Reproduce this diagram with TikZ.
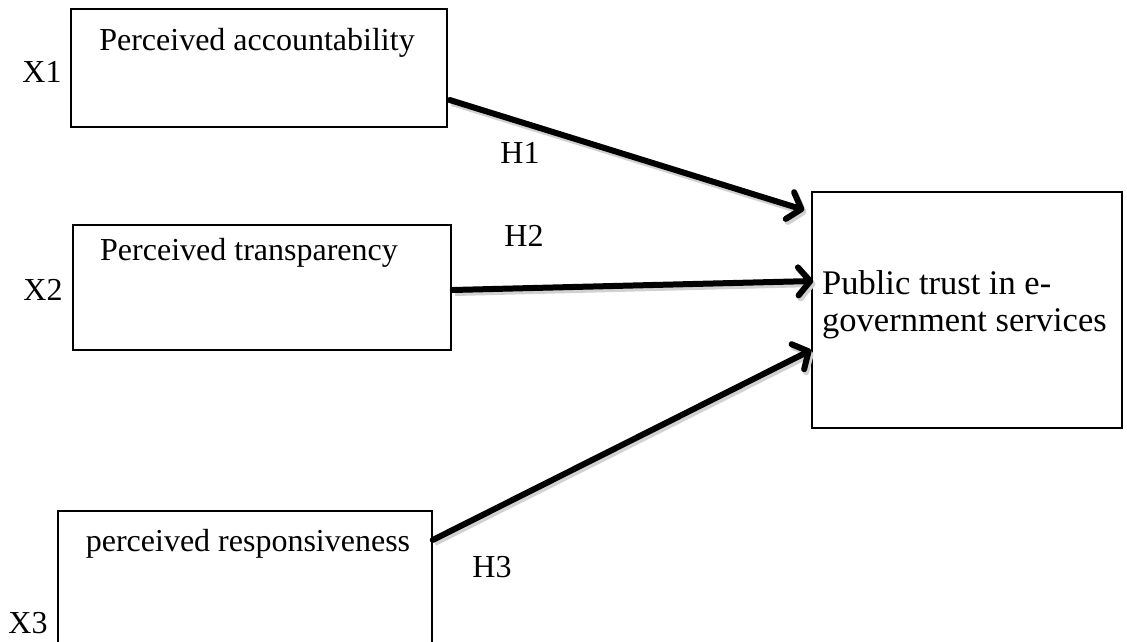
\documentclass[tikz,border=0pt]{standalone}
\usepackage{fontspec}
\setmainfont{Liberation Serif}
\usetikzlibrary{arrows.meta}
\tikzset{
  box/.style={draw=black, line width=1.5pt, fill=white, inner sep=0pt},
  lbl/.style={inner sep=0pt, font=\fontsize{32}{37}\selectfont},
  biglbl/.style={inner sep=0pt, align=left, font=\fontsize{34.5}{37}\selectfont},
  path arrow/.style={line width=6pt, line cap=round, line join=round,
    -{Straight Barb[length=12pt,width=28pt,line cap=round,line join=round]},
    preaction={draw=black!18, line width=6pt, transform canvas={shift={(2pt,-3pt)}}}}
}
\begin{document}
\begin{tikzpicture}[x=1pt,y=-1pt]
\useasboundingbox (0,0) rectangle (1127,642);
\clip (0,0) rectangle (1127,642);
% boxes
\node[box, minimum width=376pt, minimum height=118pt] (b1) at (259,68) {};
\node[box, minimum width=378pt, minimum height=125pt] (b2) at (262,287.5) {};
\node[box, minimum width=374pt, minimum height=149pt] (b3) at (245,585.5) {};
\node[box, minimum width=310pt, minimum height=236pt] (b4) at (967,310) {};
% box texts
\node[lbl] (t1) at (257,43) {Perceived accountability};
\node[lbl] (t2) at (249,253) {Perceived transparency};
\node[lbl] (t3) at (248,544) {perceived responsiveness};
\node[biglbl, anchor=west] (t4) at (822,305) {Public trust in e-\\government services};
% variable labels
\node[lbl] (x1) at (42,72) {X1};
\node[lbl] (x2) at (43,290) {X2};
\node[lbl] (x3) at (28,623) {X3};
% connectors
\coordinate (s1) at ([xshift=2pt,yshift=-32pt]b1.east);
\coordinate (e1) at ([xshift=-7pt,yshift=100pt]b4.west);
\coordinate (s2) at ([xshift=1pt,yshift=-2.5pt]b2.east);
\coordinate (e2) at ([xshift=2pt,yshift=29pt]b4.west);
\coordinate (s3) at ([xshift=0pt,yshift=45.5pt]b3.east);
\coordinate (e3) at ([xshift=0pt,yshift=-40pt]b4.west);
\draw[path arrow] (s1) -- (e1);
\draw[path arrow] (s2) -- (e2);
\draw[path arrow] (s3) -- (e3);
% hypothesis labels
\node[lbl] (h1) at (520,153) {H1};
\node[lbl] (h2) at (524,236) {H2};
\node[lbl] (h3) at (492,567) {H3};
\end{tikzpicture}
\end{document}
